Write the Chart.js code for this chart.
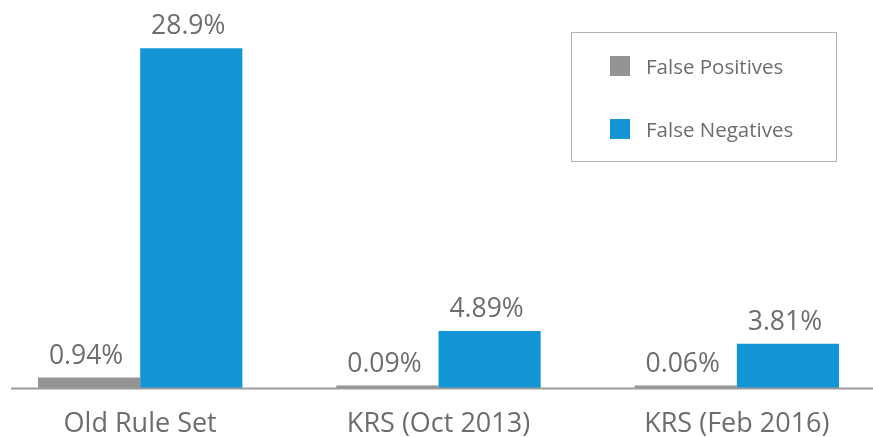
<!DOCTYPE html>
<html>
<head>
<meta charset="utf-8">
<script src="https://cdn.jsdelivr.net/npm/chart.js@4/dist/chart.umd.min.js"></script>
<style>
  html, body { margin: 0; padding: 0; background: #fff; overflow: hidden; }
  body { width: 873px; height: 437px; position: relative; font-family: "Open Sans", sans-serif; }
  #wrap { position: absolute; left: -9px; top: 0; width: 895px; height: 461px; }
  #legend {
    position: absolute; left: 571px; top: 32px; width: 266px; height: 130px;
    border: 1.5px solid #b4b4b4; box-sizing: border-box;
  }
  .item { position: absolute; left: 38px; height: 20px; display: flex; align-items: center; }
  .item span.sw { width: 20px; height: 20px; display: inline-block; }
  .item span.tx { margin-left: 16px; font-size: 20.5px; color: #6d6d6d; line-height: 20px; }
</style>
</head>
<body>
<div id="wrap"><canvas id="chart"></canvas></div>
<div id="legend">
  <div class="item" style="top:23px"><span class="sw" style="background:#949494"></span><span class="tx">False Positives</span></div>
  <div class="item" style="top:86px"><span class="sw" style="background:#1395d5"></span><span class="tx">False Negatives</span></div>
</div>
<script>
// Datos del gráfico
const categories = ["Old Rule Set", "KRS (Oct 2013)", "KRS (Feb 2016)"];
const falsePositives = [0.94, 0.09, 0.06];
const falseNegatives = [28.9, 4.89, 3.81];

const gray = "#949494";
const blue = "#1395d5";
const textColor = "#6d6d6d";

// Etiquetas de valor encima de cada barra y línea base
const valueLabels = {
    id: "valueLabels",
    afterDatasetsDraw(chart) {
        const ctx = chart.ctx;
        ctx.save();
        ctx.font = "26.5px 'Open Sans'";
        ctx.fillStyle = textColor;
        ctx.textAlign = "center";
        ctx.textBaseline = "alphabetic";
        chart.data.datasets.forEach((ds, i) => {
            chart.getDatasetMeta(i).data.forEach((bar, j) => {
                ctx.fillText(ds.data[j] + "%", bar.x - 3, bar.y - 14);
            });
        });
        const y = chart.scales.y.getPixelForValue(0);
        ctx.strokeStyle = "#9c9c9c";
        ctx.lineWidth = 2;
        ctx.beginPath();
        ctx.moveTo(20, y);
        ctx.lineTo(chart.width, y);
        ctx.stroke();
        ctx.restore();
    }
};

new Chart(document.getElementById("chart"), {
    type: "bar",
    data: {
        labels: categories,
        datasets: [
            { label: "False Positives", data: falsePositives, backgroundColor: gray },
            { label: "False Negatives", data: falseNegatives, backgroundColor: blue }
        ]
    },
    options: {
        responsive: true,
        maintainAspectRatio: false,
        animation: false,
        layout: { padding: 0 },
        datasets: { bar: { categoryPercentage: 0.685, barPercentage: 1, minBarLength: 3 } },
        plugins: { legend: { display: false }, tooltip: { enabled: false } },
        scales: {
            x: {
                grid: { display: false, drawTicks: false },
                border: { display: false },
                ticks: { color: textColor, font: { family: "Open Sans", size: 27 }, padding: 20 }
            },
            y: { display: false, min: 0, max: 33 }
        }
    },
    plugins: [valueLabels]
});
</script>
</body>
</html>
